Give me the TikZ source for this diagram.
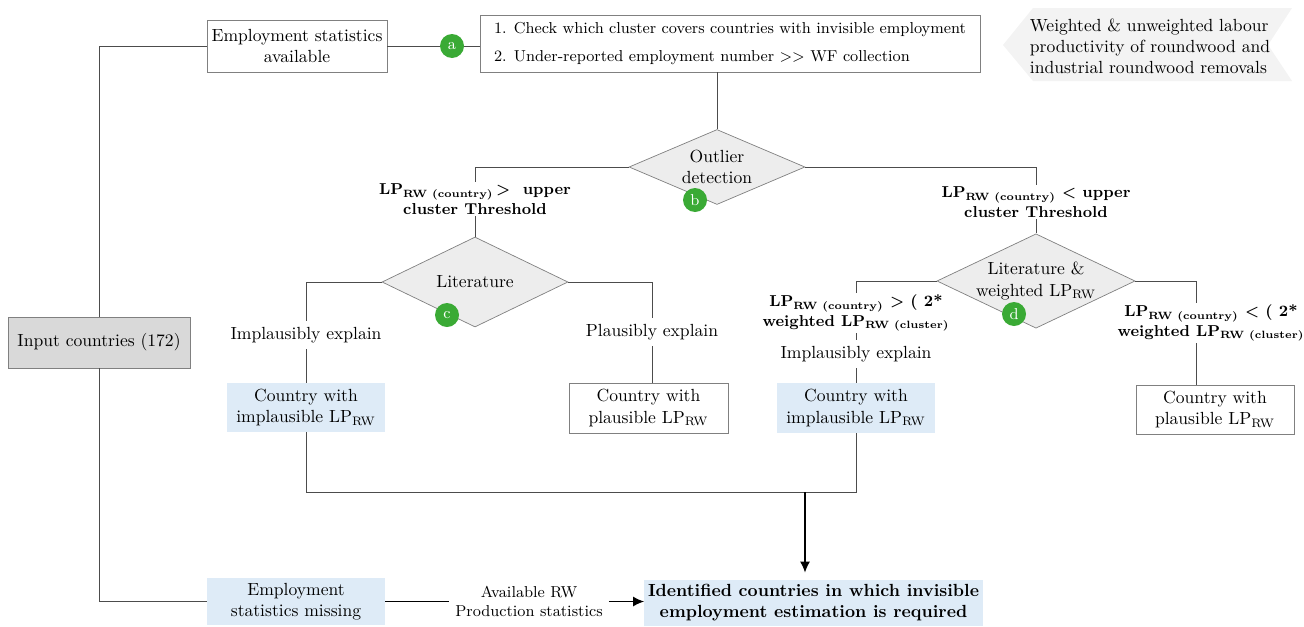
\documentclass[tikz,border=0pt]{standalone}
\usetikzlibrary{shapes.geometric,arrows.meta}

\definecolor{boxblue}{RGB}{222,235,247}
\definecolor{badgegreen}{RGB}{58,170,53}
\definecolor{lightgrey}{RGB}{237,237,237}
\definecolor{inputgrey}{RGB}{217,217,217}
\definecolor{edgegrey}{RGB}{128,128,128}

\begin{document}
\begin{tikzpicture}[x=0.02cm, y=-0.02cm,
		plainbox/.style={draw=edgegrey, fill=white, align=center, inner sep=2pt},
		bluebox/.style={fill=boxblue, align=center, inner sep=2pt},
		decide/.style={diamond, draw=edgegrey, fill=lightgrey, align=center, inner sep=0pt},
		badge/.style={circle, fill=badgegreen, text=white, minimum size=0.48cm, inner sep=0pt, font=\small},
		cond/.style={font=\small\bfseries, align=center, inner sep=1pt},
		wire/.style={draw=black!70},
		feed/.style={draw=black, thick, -{Latex[length=2.2mm, width=2mm]}}]
		
		\useasboundingbox (0, 0) rectangle (1304, 626);
		
		\node[plainbox, minimum width=3.6cm, minimum height=1.04cm] (avail) at (297, 46) {Employment statistics\\available};
		\node[plainbox, minimum width=10cm, minimum height=1.14cm, align=left, font=\small] (checks) at (730, 43.5) {1. Check which cluster covers countries with invisible employment\\[5pt]2. Under-reported employment number >{}> WF collection};
		\node[draw=edgegrey, fill=inputgrey, minimum width=3.64cm, minimum height=1.02cm] (input) at (99, 342.5) {Input countries (172)};
		
		\fill[lightgrey!70] (1003, 45) -- (1033, 8) -- (1292, 8) -- (1268, 45) -- (1292, 81) -- (1033, 81) -- cycle;
		\node[align=left] (prodnote) at (1150, 46) {Weighted \& unweighted labour\\productivity of roundwood and\\industrial roundwood removals};
		
		\node[decide, aspect=2.35, minimum width=3.52cm, minimum height=1.5cm] (outlier) at (717, 167) {Outlier\\detection};
		\node[cond] (gtup) at (475, 199) {LP\textsubscript{RW (country)}\,> \ upper\\cluster Threshold};
		\node[cond] (ltup) at (1036, 202) {LP\textsubscript{RW (country)} < upper\\cluster Threshold};
		
		\node[decide, aspect=2.07, minimum width=3.72cm, minimum height=1.8cm] (lit) at (475, 282) {Literature};
		\node[decide, aspect=2.1, minimum width=3.48cm, minimum height=1.72cm] (litw) at (1036, 281) {Literature \&\\weighted LP\textsubscript{RW}};
		
		\node (impexpl) at (306, 335) {Implausibly explain};
		\node (plausexpl) at (652, 332) {Plausibly explain};
		\node[cond] (gttwice) at (856, 313) {LP\textsubscript{RW (country)} > ( 2*\\weighted LP\textsubscript{RW (cluster)}};
		\node (impexplw) at (856, 354) {Implausibly explain};
		\node[cond] (lttwice) at (1211, 323) {LP\textsubscript{RW (country)} < ( 2*\\weighted LP\textsubscript{RW (cluster)}};
		
		\node[bluebox, minimum width=3.18cm, minimum height=0.98cm] (implaus) at (306, 407.5) {Country with\\implausible LP\textsubscript{RW}};
		\node[plainbox, minimum width=3.18cm, minimum height=1cm] (plaus) at (648.5, 408) {Country with\\plausible LP\textsubscript{RW}};
		\node[bluebox, minimum width=3.16cm, minimum height=1cm] (implausw) at (856, 408) {Country with\\implausible LP\textsubscript{RW}};
		\node[plainbox, minimum width=3.16cm, minimum height=0.98cm] (plausw) at (1215, 409.5) {Country with\\plausible LP\textsubscript{RW}};
		
		\node[bluebox, minimum width=3.56cm, minimum height=0.94cm] (missing) at (296, 601.5) {Employment\\statistics missing};
		\node[align=center, font=\small] (rwprod) at (529, 601.5) {Available RW\\Production statistics};
		\node[bluebox, minimum width=6.34cm, minimum height=0.92cm, font=\bfseries] (ident) at (813.5, 603) {Identified countries in which invisible\\employment estimation is required};
		
		\coordinate (split) at (1196, 281);
		\coordinate (join) at (805, 492);
		
		\draw[wire] (avail.east) -- (avail.east -| checks.west);
		\draw[wire] (avail.west) -| (input.north);
		\draw[wire] (input.south) |- (missing.west);
		\draw[wire] (checks.south -| outlier.north) -- (outlier.north);
		
		\draw[wire] (outlier.west) -| (gtup.north);
		\draw[wire] (gtup.south) -- (lit.north);
		\draw[wire] (outlier.east) -| (ltup.north);
		\draw[wire] (ltup.south) -- (litw.north);
		
		\draw[wire] (lit.west) -| (impexpl.north);
		\draw[wire] (impexpl.south) -- (implaus.north);
		\draw[wire] (lit.east) -| (plausexpl.north);
		\draw[wire] (plausexpl.south) -- (plausexpl.south |- plaus.north);
		
		\draw[wire] (litw.west) -| (gttwice.north);
		\draw[wire] (gttwice.south) -- (impexplw.north);
		\draw[wire] (impexplw.south) -- (implausw.north);
		\draw[wire] (litw.east) -- (split) -- (split |- lttwice.north);
		\draw[wire] (lttwice.south -| split) -- (plausw.north -| split);
		
		\draw[wire] (implaus.south) -- ++(0, 60) -| (implausw.south);
		\draw[feed] (join) -- ([yshift=4pt] join |- ident.north);
		\draw[feed, -] (missing.east) -- (missing.east -| rwprod.west);
		\draw[feed] (rwprod.east) -- (rwprod.east -| ident.west);
		
		\node[badge] (ba) at (452, 46) {a};
		\node[badge] (bb) at (695, 200) {b};
		\node[badge] (bc) at (447, 315) {c};
		\node[badge] (bd) at (1014, 314) {d};
	\end{tikzpicture}
\end{document}
